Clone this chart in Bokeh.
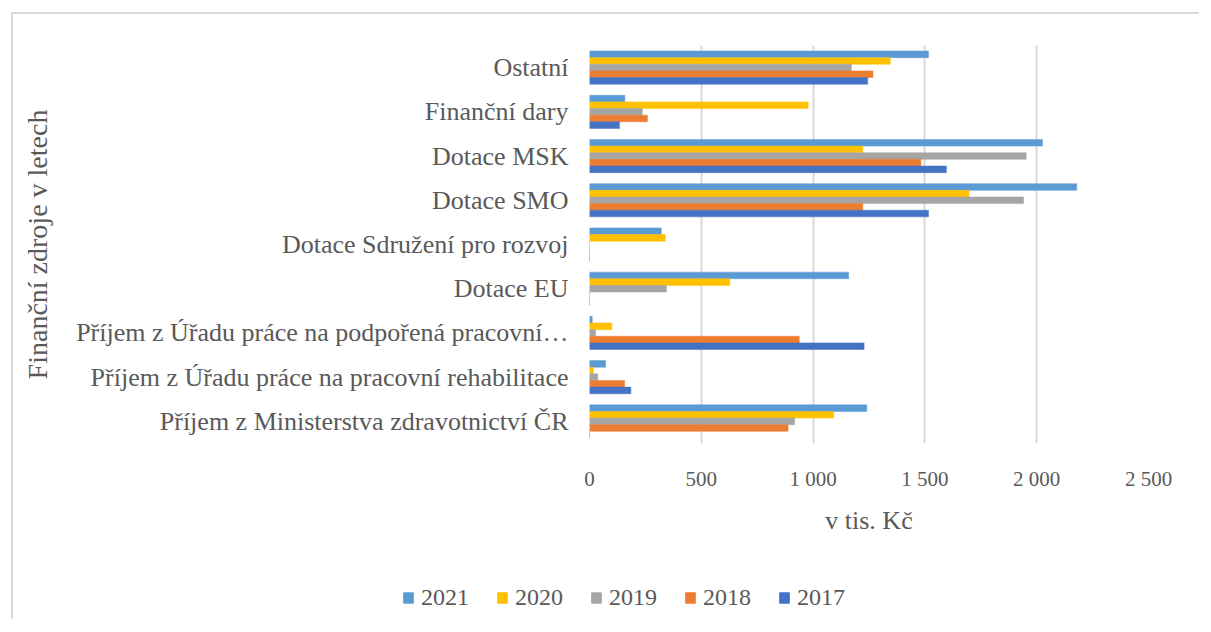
from bokeh.plotting import figure
from bokeh.models import (FactorRange, Range1d, FixedTicker, Legend, LegendItem,
                          ColumnDataSource)
from bokeh.transform import dodge
from bokeh.embed import file_html
from bokeh.resources import INLINE

# ---------------- data ----------------
categories = [
    "Ostatní",
    "Finanční dary",
    "Dotace MSK",
    "Dotace SMO",
    "Dotace Sdružení pro rozvoj",
    "Dotace EU",
    "Příjem z Úřadu práce na podpořená pracovní…",
    "Příjem z Úřadu práce na pracovní rehabilitace",
    "Příjem z Ministerstva zdravotnictví ČR",
]
years = ["2021", "2020", "2019", "2018", "2017"]
v2021 = [1516, 158, 2026, 2179, 321, 1159, 12, 72, 1240]
v2020 = [1345, 978, 1222, 1697, 339, 627, 100, 17, 1092]
v2019 = [1171, 236, 1953, 1941, 0, 344, 27, 37, 917]
v2018 = [1268, 259, 1482, 1222, 0, 0, 938, 157, 888]
v2017 = [1244, 134, 1596, 1516, 0, 0, 1228, 185, 0]
series = [v2021, v2020, v2019, v2018, v2017]
colors = ["#5B9BD5", "#FFC000", "#A5A5A5", "#ED7D31", "#4472C4"]
x_ticks = [0, 500, 1000, 1500, 2000, 2500]
x_tick_labels = ["0", "500", "1 000", "1 500", "2 000", "2 500"]
x_title = "v tis. Kč"
y_title = "Finanční zdroje v letech"

FONT = "'Liberation Serif', 'Times New Roman', serif"
TXT = "#595959"
BORDER = "2px solid #d9d9d9"

# ---------------- main figure ----------------
p = figure(
    width=1188, height=545,
    y_range=FactorRange(factors=list(reversed(categories)), range_padding=0),
    x_range=Range1d(0, 2500),
    output_backend="svg", toolbar_location=None,
    min_border_left=576, min_border_right=53,
    min_border_top=31, min_border_bottom=116,
)
p.styles = {"border-top": BORDER, "border-left": BORDER,
            "margin-left": "11px", "margin-top": "12px"}
p.outline_line_color = None
p.background_fill_color = "white"
p.border_fill_color = "white"

src = {"cat": categories}
for y, s in zip(years, series):
    src["y" + y] = s
source = ColumnDataSource(src)

bw = 0.15
offsets = [0.3, 0.15, 0.0, -0.15, -0.3]
for y, off, c in zip(years, offsets, colors):
    p.hbar(y=dodge("cat", off, range=p.y_range), right="y" + y, left=0,
           height=bw, source=source, fill_color=c, line_color=c,
           line_width=0.5)

p.ygrid.grid_line_color = None
p.xgrid.grid_line_color = "#d9d9d9"
p.xgrid.grid_line_width = 2
p.xaxis.ticker = FixedTicker(ticks=x_ticks)
p.xaxis.major_label_overrides = {t: l for t, l in zip(x_ticks, x_tick_labels)}

for ax in (p.xaxis, p.yaxis):
    ax.axis_line_color = None
    ax.major_tick_line_color = None
    ax.minor_tick_line_color = None
    ax.major_label_text_font = FONT
    ax.major_label_text_color = TXT
    ax.axis_label_text_font = FONT
    ax.axis_label_text_color = TXT
    ax.axis_label_text_font_style = "normal"

p.xaxis.major_label_text_font_size = "21px"
p.xaxis.major_label_standoff = 17
p.xaxis.axis_label = x_title
p.xaxis.axis_label_text_font_size = "26px"
p.xaxis.axis_label_standoff = 12

p.yaxis.major_label_text_font_size = "26px"
p.yaxis.major_label_standoff = 15
p.yaxis.axis_label = y_title
p.yaxis.axis_label_text_font_size = "28px"
p.yaxis.axis_label_standoff = 20

# ---------------- legend strip (separate root) ----------------
p2 = figure(
    width=1188, height=62,
    x_range=Range1d(0, 1), y_range=Range1d(0, 1),
    output_backend="svg", toolbar_location=None,
    min_border_left=389, min_border_top=27, min_border_right=300,
    min_border_bottom=0,
)
p2.styles = {"border-left": BORDER, "margin-left": "11px"}
p2.axis.visible = False
p2.grid.visible = False
p2.outline_line_color = None
p2.background_fill_color = "white"
p2.border_fill_color = "white"

# legend proxies: one bar per year, placed outside the strip's visible range
proxy = ColumnDataSource({"y": [-5.0], "r": [1.0]})
lr = []
for c in colors:
    lr.append(p2.hbar(y="y", right="r", left=0, height=0.5, source=proxy,
                      fill_color=c, line_color=c))

legend = Legend(
    items=[LegendItem(label=y, renderers=[r]) for y, r in zip(years, lr)],
    orientation="horizontal",
    location="top_left",
    glyph_width=12, glyph_height=13,
    label_standoff=7, spacing=27,
    padding=0, margin=0,
    border_line_color=None, background_fill_alpha=0,
    label_text_font=FONT, label_text_font_size="24px", label_text_color=TXT,
)
p2.add_layout(legend, "center")

open("out.html", "w").write(file_html([p, p2], INLINE))
